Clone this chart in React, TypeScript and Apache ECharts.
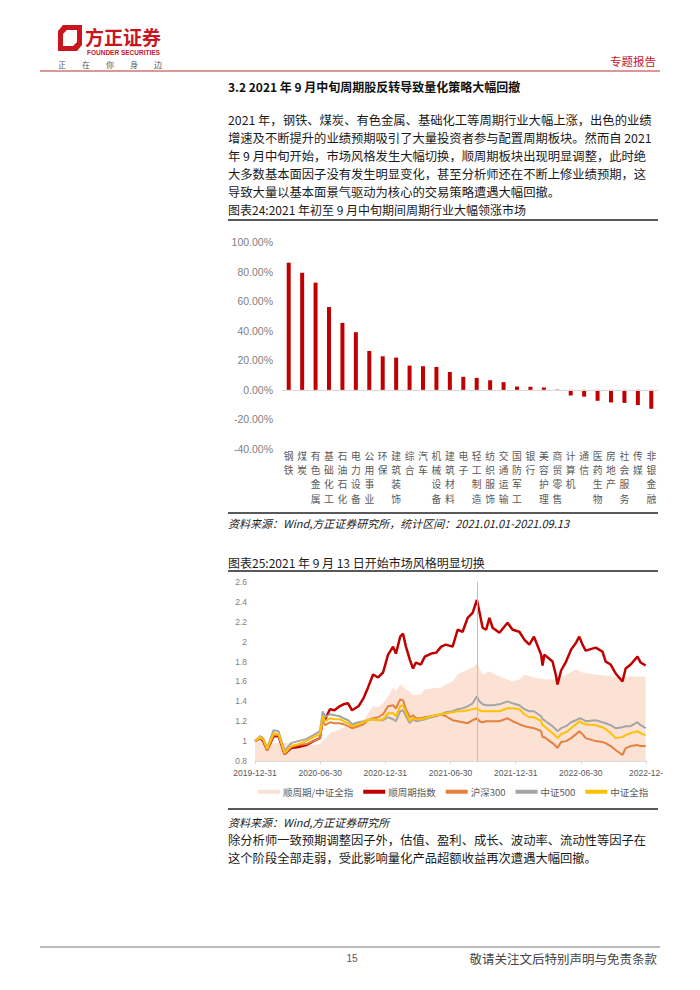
import React, { useEffect, useRef } from 'react';
import * as echarts from 'echarts';

// ---------- Chart 24 data ----------
const barCategories = ['钢铁', '煤炭', '有色金属', '基础化工', '石油石化', '电力设备', '公用事业', '环保', '建筑装饰', '综合', '汽车', '机械设备', '建筑材料', '电子', '轻工制造', '纺织服饰', '交通运输', '国防军工', '银行', '美容护理', '商贸零售', '计算机', '通信', '医药生物', '房地产', '社会服务', '传媒', '非银金融'];
const barValues = [86, 79.2, 72.5, 56, 45.3, 39, 26.3, 22.7, 21.8, 16.4, 16, 15.5, 12.1, 8.8, 8.1, 6.5, 5.2, 2.2, 2.1, 1.6, 0.2, -3.8, -4.6, -7.4, -8.5, -8.8, -10.3, -12.8];

// ---------- Chart 25 data ----------
const lineDates = ['2019-12-31', '2020-01-14', '2020-01-23', '2020-02-03', '2020-02-21', '2020-03-06', '2020-03-23', '2020-04-10', '2020-04-30', '2020-05-22', '2020-06-12', '2020-06-30', '2020-07-08', '2020-07-15', '2020-07-28', '2020-08-10', '2020-08-24', '2020-09-04', '2020-09-17', '2020-09-28', '2020-10-16', '2020-10-30', '2020-11-12', '2020-11-26', '2020-12-10', '2020-12-24', '2021-01-07', '2021-01-21', '2021-01-29', '2021-02-10', '2021-02-18', '2021-02-26', '2021-03-09', '2021-03-18', '2021-03-26', '2021-04-09', '2021-04-20', '2021-05-08', '2021-05-22', '2021-06-05', '2021-06-18', '2021-07-07', '2021-07-21', '2021-08-04', '2021-08-18', '2021-09-01', '2021-09-13', '2021-09-20', '2021-09-29', '2021-10-09', '2021-10-18', '2021-10-27', '2021-11-15', '2021-12-08', '2021-12-22', '2022-01-10', '2022-01-24', '2022-02-07', '2022-02-20', '2022-03-12', '2022-03-16', '2022-03-21', '2022-04-13', '2022-04-22', '2022-04-27', '2022-05-07', '2022-05-21', '2022-06-04', '2022-06-18', '2022-06-27', '2022-07-06', '2022-07-15', '2022-08-12', '2022-08-31', '2022-09-09', '2022-09-23', '2022-10-07', '2022-10-26', '2022-11-04', '2022-11-18', '2022-12-07', '2022-12-16', '2022-12-30'];
const cyclicIndex = [1.00, 1.03, 1.00, 0.91, 1.05, 1.05, 0.87, 0.93, 0.94, 0.96, 1.00, 1.03, 1.24, 1.22, 1.32, 1.31, 1.35, 1.37, 1.38, 1.31, 1.35, 1.43, 1.54, 1.67, 1.64, 1.69, 1.87, 1.95, 1.88, 2.05, 2.08, 1.95, 1.82, 1.73, 1.79, 1.77, 1.85, 1.88, 1.89, 1.95, 1.97, 1.95, 2.12, 2.10, 2.24, 2.29, 2.42, 2.30, 2.14, 2.12, 2.24, 2.14, 2.09, 2.19, 2.12, 2.10, 2.02, 1.97, 2.05, 1.87, 1.76, 1.87, 1.80, 1.67, 1.57, 1.71, 1.80, 1.92, 1.99, 2.05, 1.97, 1.91, 1.94, 1.90, 1.80, 1.77, 1.68, 1.60, 1.73, 1.77, 1.85, 1.79, 1.76];
const hs300 = [1.00, 1.03, 1.01, 0.91, 1.06, 1.06, 0.87, 0.94, 0.96, 0.97, 1.00, 1.03, 1.20, 1.16, 1.19, 1.18, 1.18, 1.17, 1.15, 1.13, 1.15, 1.17, 1.21, 1.23, 1.24, 1.27, 1.35, 1.36, 1.33, 1.42, 1.41, 1.32, 1.24, 1.26, 1.23, 1.23, 1.24, 1.25, 1.26, 1.27, 1.25, 1.21, 1.20, 1.19, 1.18, 1.21, 1.23, 1.20, 1.19, 1.20, 1.20, 1.20, 1.20, 1.23, 1.20, 1.17, 1.15, 1.14, 1.13, 1.10, 1.04, 1.04, 0.98, 0.95, 0.93, 0.99, 1.00, 1.03, 1.07, 1.10, 1.07, 1.03, 1.00, 0.99, 0.98, 0.95, 0.91, 0.86, 0.93, 0.95, 0.96, 0.95, 0.95];
const csi500 = [1.00, 1.05, 1.03, 0.93, 1.11, 1.10, 0.90, 0.98, 1.00, 1.02, 1.06, 1.10, 1.30, 1.24, 1.27, 1.26, 1.25, 1.23, 1.21, 1.17, 1.19, 1.20, 1.21, 1.22, 1.21, 1.21, 1.24, 1.22, 1.20, 1.30, 1.31, 1.25, 1.18, 1.22, 1.20, 1.21, 1.22, 1.24, 1.25, 1.27, 1.29, 1.30, 1.32, 1.33, 1.35, 1.38, 1.45, 1.40, 1.37, 1.36, 1.36, 1.36, 1.37, 1.40, 1.38, 1.36, 1.32, 1.30, 1.30, 1.25, 1.22, 1.21, 1.15, 1.12, 1.10, 1.13, 1.15, 1.19, 1.21, 1.23, 1.22, 1.20, 1.21, 1.19, 1.18, 1.16, 1.13, 1.14, 1.15, 1.15, 1.19, 1.16, 1.13];
const csiAll = [1.00, 1.04, 1.02, 0.92, 1.08, 1.07, 0.88, 0.95, 0.97, 1.00, 1.04, 1.07, 1.25, 1.20, 1.23, 1.22, 1.22, 1.20, 1.18, 1.15, 1.17, 1.19, 1.21, 1.22, 1.21, 1.22, 1.28, 1.28, 1.25, 1.35, 1.36, 1.29, 1.20, 1.23, 1.22, 1.22, 1.23, 1.25, 1.26, 1.27, 1.28, 1.29, 1.30, 1.30, 1.31, 1.32, 1.33, 1.31, 1.30, 1.30, 1.30, 1.30, 1.30, 1.33, 1.33, 1.32, 1.27, 1.24, 1.24, 1.20, 1.16, 1.15, 1.08, 1.05, 1.03, 1.07, 1.09, 1.13, 1.17, 1.20, 1.18, 1.17, 1.16, 1.14, 1.12, 1.08, 1.03, 1.04, 1.06, 1.08, 1.10, 1.08, 1.06];
const ratioDates = ['2019-12-31', '2020-02-03', '2020-03-23', '2020-04-30', '2020-06-12', '2020-06-30', '2020-07-08', '2020-07-28', '2020-08-24', '2020-09-17', '2020-09-28', '2020-10-30', '2020-11-12', '2020-11-26', '2020-12-10', '2020-12-24', '2021-01-07', '2021-01-21', '2021-01-29', '2021-02-10', '2021-02-18', '2021-02-26', '2021-03-09', '2021-03-18', '2021-04-09', '2021-04-20', '2021-05-08', '2021-06-05', '2021-06-18', '2021-07-07', '2021-07-21', '2021-08-18', '2021-09-01', '2021-09-13', '2021-09-29', '2021-10-18', '2021-11-15', '2021-12-22', '2022-01-10', '2022-01-24', '2022-02-20', '2022-03-26', '2022-04-27', '2022-05-21', '2022-06-18', '2022-07-06', '2022-08-12', '2022-09-23', '2022-10-26', '2022-11-18', '2022-12-30'];
const ratioValues = [1.00, 0.98, 0.98, 0.96, 0.96, 0.97, 1.00, 1.08, 1.12, 1.16, 1.13, 1.20, 1.28, 1.35, 1.34, 1.38, 1.45, 1.54, 1.50, 1.57, 1.55, 1.52, 1.50, 1.46, 1.47, 1.52, 1.53, 1.54, 1.57, 1.60, 1.67, 1.72, 1.74, 1.78, 1.67, 1.70, 1.65, 1.60, 1.62, 1.67, 1.64, 1.62, 1.62, 1.67, 1.72, 1.69, 1.67, 1.65, 1.64, 1.65, 1.65];
const xTickLabels = ['2019-12-31', '2020-06-30', '2020-12-31', '2021-06-30', '2021-12-31', '2022-06-30', '2022-12-'];
const switchDate = '2021-09-13';
const seriesNames = ['顺周期/中证全指', '顺周期指数', '沪深300', '中证500', '中证全指'];

// ---------- Page text ----------
const paragraph1 = [
  '2021 年，钢铁、煤炭、有色金属、基础化工等周期行业大幅上涨，出色的业绩',
  '增速及不断提升的业绩预期吸引了大量投资者参与配置周期板块。然而自 2021',
  '年 9 月中旬开始，市场风格发生大幅切换，顺周期板块出现明显调整，此时绝',
  '大多数基本面因子没有发生明显变化，甚至分析师还在不断上修业绩预期，这',
  '导致大量以基本面景气驱动为核心的交易策略遭遇大幅回撤。',
];
const paragraph2 = [
  '除分析师一致预期调整因子外，估值、盈利、成长、波动率、流动性等因子在',
  '这个阶段全部走弱，受此影响量化产品超额收益再次遭遇大幅回撤。',
];

const CJK = "'Noto Sans CJK SC', sans-serif";
const NUM = "'Liberation Sans', Arial, sans-serif";
const RED = '#C00000';
const BRAND = '#C9151E';
const AREA = '#FBE2D5';

const START = Date.UTC(2019, 11, 31);
const SPAN_DAYS = 1096;
function toX(d: string): number {
  const [y, m, dd] = d.split('-').map(Number);
  return ((Date.UTC(y, m - 1, dd) - START) / 86400000) * 6 / SPAN_DAYS;
}

function txt(text: string, x: number, y: number, o: any = {}) {
  const align = o.align || 'left';
  return {
    type: 'text',
    x,
    y,
    silent: true,
    style: {
      text,
      fill: o.fill || '#1a1a1a',
      fontSize: o.size || 12.3,
      fontFamily: o.family || CJK,
      fontWeight: o.weight || 'normal',
      fontStyle: o.style || 'normal',
      align,
      textAlign: align,
      verticalAlign: 'middle',
      textVerticalAlign: 'middle',
    },
  };
}
function hline(x1: number, x2: number, y: number, stroke: string, w: number) {
  return { type: 'line', silent: true, shape: { x1, y1: y, x2, y2: y }, style: { stroke, lineWidth: w } };
}

// one category axis per character row, so the vertical labels read top to bottom
const CHAR_ROWS = 4;
const CHAR_PITCH = 14.2;
function barCharAxis(row: number) {
  return {
    type: 'category',
    gridIndex: 0,
    position: 'bottom',
    offset: 0,
    data: barCategories,
    axisLine: { show: false, onZero: false },
    axisTick: { show: false },
    splitLine: { show: false },
    axisLabel: {
      interval: 0,
      margin: 2 + row * CHAR_PITCH,
      fontSize: 9.8,
      color: '#595959',
      fontFamily: CJK,
      verticalAlign: 'top',
      formatter: (v: string) => v.charAt(row) || '',
    },
  };
}

export default function App() {
  const ref = useRef<HTMLDivElement>(null);
  useEffect(() => {
    const chart = echarts.init(ref.current!, null, { renderer: 'svg' });

    const graphics: any[] = [
      // header logo
      { type: 'polygon', silent: true, shape: { points: [[58, 31], [63, 25], [82, 25], [82, 45], [77, 51], [58, 51]] }, style: { fill: BRAND } },
      { type: 'polygon', silent: true, shape: { points: [[63, 34], [67, 30], [77, 30], [77, 42], [73, 46], [63, 46]] }, style: { fill: '#fff' } },
      txt('方正证券', 85, 36, { size: 19, weight: 'bold', fill: BRAND }),
      txt('FOUNDER SECURITIES', 87, 52.5, { size: 6.5, weight: 'bold', fill: BRAND, family: NUM }),
      txt('正　　在　　你　　身　　边', 58, 64.5, { size: 8, fill: '#555' }),
      txt('专题报告', 656, 61, { size: 11.5, fill: BRAND, align: 'right' }),
      hline(40, 660, 71, '#B8302F', 1),
      // section title
      txt('3.2 2021 年 9 月中旬周期股反转导致量化策略大幅回撤', 228, 86, { size: 12, weight: 'bold', fill: '#111' }),
      ...paragraph1.map((s, i) => txt(s, 228, 120 + i * 18, {})),
      txt('图表24:2021 年初至 9 月中旬期间周期行业大幅领涨市场', 228, 209, { size: 12 }),
      hline(228, 658, 220, '#222', 1.5),
      hline(228, 658, 513, '#222', 1.5),
      txt('资料来源：Wind,方正证券研究所，统计区间：2021.01.01-2021.09.13', 228, 523, { size: 11, style: 'italic' }),
      txt('图表25:2021 年 9 月 13 日开始市场风格明显切换', 228, 562, { size: 12 }),
      hline(228, 658, 571, '#222', 1.5),
      hline(228, 658, 809, '#222', 1.5),
      txt('资料来源：Wind,方正证券研究所', 228, 822, { size: 11, style: 'italic' }),
      ...paragraph2.map((s, i) => txt(s, 228, 840 + i * 18, {})),
      // footer
      hline(40, 660, 947, '#A6A6A6', 1.5),
      txt('15', 352, 958, { size: 10, fill: '#555', align: 'center', family: NUM }),
      txt('敬请关注文后特别声明与免责条款', 657, 958, { size: 12.5, fill: '#444', align: 'right' }),
    ];

    const LINE_X = CHAR_ROWS; // index of the line chart's x axis
    const lineStyleFor = (color: string, width: number) => ({
      type: 'line',
      xAxisIndex: LINE_X,
      yAxisIndex: 1,
      symbol: 'none',
      showSymbol: false,
      lineStyle: { color, width },
      itemStyle: { color },
      z: 3,
    });

    const barAxes = Array.from({ length: CHAR_ROWS }, (_, r) => barCharAxis(r));

    const option: any = {
      animation: false,
      backgroundColor: '#fff',
      textStyle: { fontFamily: CJK },
      grid: [
        { left: 282, right: 42, top: 242, bottom: 541, containLabel: false, outerBoundsMode: 'none' },
        { left: 255, right: 54, top: 582, bottom: 229, containLabel: false, outerBoundsMode: 'none' },
      ],
      xAxis: [
        ...barAxes,
        {
          type: 'value',
          gridIndex: 1,
          position: 'bottom',
          min: 0,
          max: 6,
          interval: 1,
          splitLine: { show: false },
          axisLine: { show: true, onZero: false, lineStyle: { color: '#D9D9D9', width: 1 } },
          axisTick: { show: true, length: 3, lineStyle: { color: '#D9D9D9' } },
          axisLabel: {
            margin: 7,
            fontSize: 8.5,
            color: '#595959',
            fontFamily: NUM,
            showMinLabel: true,
            showMaxLabel: true,
            formatter: (v: number) => xTickLabels[Math.round(v)] ?? '',
          },
        },
      ],
      yAxis: [
        {
          type: 'value',
          gridIndex: 0,
          position: 'left',
          min: -40,
          max: 100,
          interval: 20,
          splitLine: { show: false },
          axisLine: { show: false },
          axisTick: { show: false },
          axisLabel: { margin: 9, fontSize: 10.5, color: '#7F7F7F', fontFamily: NUM, formatter: (v: number) => v.toFixed(2) + '%' },
        },
        {
          type: 'value',
          gridIndex: 1,
          position: 'left',
          min: 0.8,
          max: 2.6,
          interval: 0.2,
          splitLine: { show: false },
          axisLine: { show: false },
          axisTick: { show: false },
          axisLabel: { margin: 8, fontSize: 8.5, color: '#7F7F7F', fontFamily: NUM, formatter: (v: number) => String(parseFloat(v.toFixed(1))) },
        },
      ],
      legend: {
        left: 258,
        top: 787,
        padding: 0,
        itemWidth: 22,
        itemHeight: 4,
        itemGap: 10,
        icon: 'rect',
        selectedMode: false,
        textStyle: { fontSize: 9.5, color: '#595959', fontFamily: CJK, padding: [0, 0, 0, -2] },
        data: seriesNames,
      },
      series: [
        {
          name: '2021年初至9月中旬涨跌幅',
          type: 'bar',
          xAxisIndex: 0,
          yAxisIndex: 0,
          data: barValues,
          barWidth: 4,
          itemStyle: { color: RED },
          markLine: {
            silent: true,
            symbol: ['none', 'none'],
            label: { show: false },
            lineStyle: { color: '#D9D9D9', width: 1, type: 'solid' },
            data: [{ yAxis: 0 }],
          },
        },
        {
          name: seriesNames[0],
          type: 'line',
          xAxisIndex: LINE_X,
          yAxisIndex: 1,
          symbol: 'none',
          showSymbol: false,
          data: ratioDates.map((d, i) => [toX(d), ratioValues[i]]),
          lineStyle: { width: 0, color: AREA },
          itemStyle: { color: AREA },
          areaStyle: { color: AREA, opacity: 1, origin: 'start' },
          z: 1,
          markLine: {
            silent: true,
            symbol: ['none', 'none'],
            label: { show: false },
            lineStyle: { color: '#A9C5DE', width: 1, type: 'solid' },
            data: [{ xAxis: toX(switchDate) }],
          },
        },
        { ...lineStyleFor('#C00000', 2.5), name: seriesNames[1], data: lineDates.map((d, i) => [toX(d), cyclicIndex[i]]) },
        { ...lineStyleFor('#E5803E', 2), name: seriesNames[2], data: lineDates.map((d, i) => [toX(d), hs300[i]]) },
        { ...lineStyleFor('#A5A5A5', 2), name: seriesNames[3], data: lineDates.map((d, i) => [toX(d), csi500[i]]) },
        { ...lineStyleFor('#FFC000', 2), name: seriesNames[4], data: lineDates.map((d, i) => [toX(d), csiAll[i]]) },
      ],
      graphic: graphics,
    };

    chart.setOption(option);
    return () => chart.dispose();
  }, []);

  return <div ref={ref} style={{ position: 'absolute', left: 0, top: 0, width: 700, height: 990, background: '#fff' }} />;
}
